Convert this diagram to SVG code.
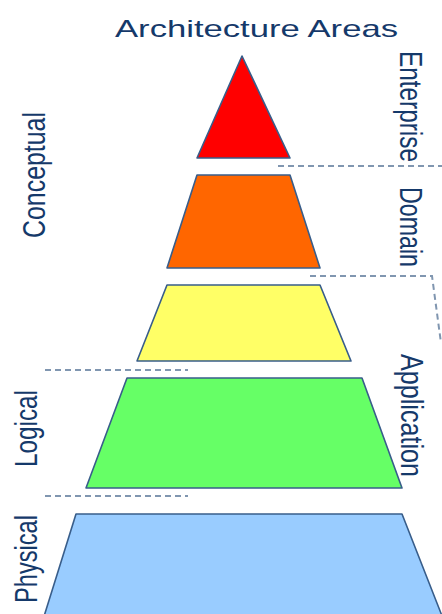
<svg xmlns="http://www.w3.org/2000/svg" width="442" height="614" viewBox="0 0 442 614">
<style>
.lbl{font-family:"Liberation Sans",Arial,sans-serif;fill:#15396A;font-size:24px}
.tier{stroke:#385D8A;stroke-width:1.6;stroke-linejoin:round}
.dash{fill:none;stroke:#8096B0;stroke-width:2;stroke-dasharray:6,4}
</style>
<rect width="442" height="614" fill="#ffffff"/>
<text class="lbl" x="115" y="37" font-size="26.5" textLength="283" lengthAdjust="spacingAndGlyphs">Architecture Areas</text>
<g id="connectors">
<path class="dash" d="M278,166 H442"/>
<path class="dash" d="M310,276 H432 L441,343"/>
<path class="dash" d="M45,370 H188"/>
<path class="dash" d="M45,496 H188"/>
</g>
<g id="enterprise-tier"><polygon class="tier" fill="#FF0000" points="242,56 290,158 197,158"/></g>
<g id="domain-tier"><polygon class="tier" fill="#FF6600" points="197,175 290,175 320,268 167,268"/></g>
<g id="application-tier"><polygon class="tier" fill="#FFFF66" points="167,285 320,285 351,361 137,361"/></g>
<g id="logical-tier"><polygon class="tier" fill="#66FF66" points="127,378 362,378 402,488 86,488"/></g>
<g id="physical-tier"><polygon class="tier" fill="#99CCFF" points="76,514 402,514 446,626 41,626"/></g>
<g id="labels">
<text class="lbl" transform="translate(400,51) scale(1.3,1) rotate(90)" textLength="111" lengthAdjust="spacingAndGlyphs">Enterprise</text>
<text class="lbl" transform="translate(400,187) scale(1.3,1) rotate(90)" textLength="80" lengthAdjust="spacingAndGlyphs">Domain</text>
<text class="lbl" transform="translate(401,354) scale(1.3,1) rotate(90)" textLength="123" lengthAdjust="spacingAndGlyphs">Application</text>
<text class="lbl" transform="translate(45,238) scale(1.3,1) rotate(-90)" textLength="126" lengthAdjust="spacingAndGlyphs">Conceptual</text>
<text class="lbl" transform="translate(37,467) scale(1.3,1) rotate(-90)" textLength="77" lengthAdjust="spacingAndGlyphs">Logical</text>
<text class="lbl" transform="translate(37,603) scale(1.3,1) rotate(-90)" textLength="88" lengthAdjust="spacingAndGlyphs">Physical</text>
</g>
</svg>
